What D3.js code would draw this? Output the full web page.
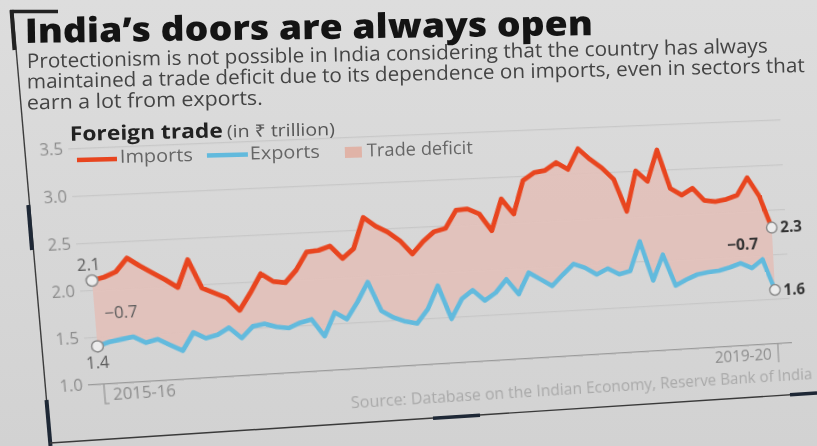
<!DOCTYPE html>
<html>
<head>
<meta charset="utf-8">
<script src="https://cdn.jsdelivr.net/npm/d3@7"></script>
<style>
  html, body { margin: 0; padding: 0; }
  body { width: 817px; height: 446px; overflow: hidden; background: #d7d7d7; }
  #stage {
    position: relative; width: 817px; height: 446px; overflow: hidden;
    background: linear-gradient(#dddddd, #d2d2d2);
    font-family: "Open Sans", "Noto Sans", sans-serif;
  }
  #stage svg { position: absolute; left: 0; top: 0; overflow: visible; }
  #plot { transform-origin: 0 0; }
</style>
</head>
<body>
<div id="stage"></div>
<script>
// Monthly foreign trade, April 2015 – March 2020 (₹ trillion)
const importsTrn = [
  2.10, 2.13, 2.18, 2.32, 2.23, 2.15, 2.07, 1.98, 2.27, 1.96,
  1.90, 1.84, 1.70, 1.88, 2.08, 1.99, 1.97, 2.10, 2.29, 2.30,
  2.34, 2.20, 2.30, 2.63, 2.53, 2.46, 2.36, 2.21, 2.34, 2.44,
  2.47, 2.66, 2.67, 2.61, 2.42, 2.76, 2.59, 2.95, 3.03, 3.05,
  3.13, 3.05, 3.27, 3.15, 3.05, 2.92, 2.56, 3.00, 2.88, 3.22,
  2.79, 2.71, 2.78, 2.64, 2.62, 2.64, 2.68, 2.87, 2.66, 2.30
];
const exportsTrn = [
  1.40, 1.44, 1.46, 1.48, 1.41, 1.44, 1.37, 1.30, 1.49, 1.42,
  1.45, 1.52, 1.40, 1.52, 1.54, 1.50, 1.48, 1.53, 1.56, 1.37,
  1.62, 1.54, 1.72, 1.93, 1.61, 1.53, 1.48, 1.45, 1.60, 1.85,
  1.48, 1.69, 1.78, 1.66, 1.74, 1.88, 1.71, 1.94, 1.86, 1.78,
  1.90, 2.01, 1.96, 1.88, 1.94, 1.87, 1.90, 2.22, 1.78, 2.06,
  1.71, 1.77, 1.82, 1.84, 1.85, 1.88, 1.92, 1.86, 1.95, 1.60
];
const months = d3.timeMonth.range(new Date(2015, 3, 1), new Date(2020, 3, 1));
const yTicks = [1.0, 1.5, 2.0, 2.5, 3.0, 3.5];
const periodLabels = ["2015-16", "2019-20"];

const C = {
  imports: "#e8451f",
  exports: "#62badd",
  deficit: "#e2c1bb",
  deficitKey: "#e0b3a7",
  grid: "#c4c4c4",
  axis: "#9a9a9a",
  tick: "#8c8c8c"
};

const stage = d3.select("#stage");

/* ---------- page frame ---------- */
const frame = stage.append("svg").attr("width", 817).attr("height", 446);
frame.append("line").attr("x1", 12.7).attr("y1", 10).attr("x2", 50.5).attr("y2", 446)
  .attr("stroke", "#3c3c3c").attr("stroke-width", 1.4);
frame.append("line").attr("x1", 10).attr("y1", 11.5).attr("x2", 58).attr("y2", 11.5)
  .attr("stroke", "#222").attr("stroke-width", 3.5);
frame.append("line").attr("x1", 11.5).attr("y1", 10).attr("x2", 14.5).attr("y2", 50)
  .attr("stroke", "#222").attr("stroke-width", 4);
frame.append("line").attr("x1", 28.3).attr("y1", 205).attr("x2", 32).attr("y2", 250)
  .attr("stroke", "#1e2836").attr("stroke-width", 4);
frame.append("line").attr("x1", 46.5).attr("y1", 400).attr("x2", 50.5).attr("y2", 446)
  .attr("stroke", "#1e2836").attr("stroke-width", 4);
frame.append("line").attr("x1", 50).attr("y1", 443).attr("x2", 817).attr("y2", 393)
  .attr("stroke", "#3a3a3a").attr("stroke-width", 1.4);
frame.append("line").attr("x1", 433).attr("y1", 418.3).attr("x2", 480).attr("y2", 415.2)
  .attr("stroke", "#1e2836").attr("stroke-width", 3.5);
frame.append("line").attr("x1", 790).attr("y1", 394.8).attr("x2", 817).attr("y2", 393)
  .attr("stroke", "#1e2836").attr("stroke-width", 3.5);

/* ---------- plot (drawn flat, then set on the tilted page) ---------- */
const plot = stage.append("svg").attr("id", "plot").attr("width", 900).attr("height", 480);

const x = d3.scalePoint().domain(d3.range(months.length)).range([92, 772]);
const y = d3.scaleLinear().domain([1, 3.5]).range([381.2, 151.2]);
const fmt = d3.format(".1f");

// y axis with gridlines
const gridLeft = 80, gridRight = 787;
const yAxis = plot.append("g").attr("transform", `translate(${gridLeft},0)`)
  .call(d3.axisLeft(y).tickValues(yTicks).tickFormat(fmt)
    .tickSize(-(gridRight - gridLeft)).tickPadding(5));
yAxis.select(".domain").remove();
yAxis.selectAll(".tick line")
  .attr("stroke", d => d === 1 ? C.axis : C.grid)
  .attr("stroke-width", d => d === 1 ? 1.3 : 1);
yAxis.selectAll(".tick text")
  .attr("fill", C.tick).attr("font-size", 15.5)
  .attr("font-family", "Open Sans, Noto Sans, sans-serif");

// trade deficit band
const idx = d3.range(months.length);
plot.append("path")
  .attr("d", d3.area().x(i => x(i)).y0(i => y(exportsTrn[i])).y1(i => y(importsTrn[i]))(idx))
  .attr("fill", C.deficit).attr("opacity", 0.95);

// series lines
const line = d3.line().x(i => x(i));
plot.append("path").attr("d", line.y(i => y(exportsTrn[i]))(idx))
  .attr("fill", "none").attr("stroke", C.exports).attr("stroke-width", 4.6)
  .attr("stroke-linejoin", "round");
plot.append("path").attr("d", line.y(i => y(importsTrn[i]))(idx))
  .attr("fill", "none").attr("stroke", C.imports).attr("stroke-width", 4.8)
  .attr("stroke-linejoin", "round");

// end markers
const first = 0, last = months.length - 1;
[[first, importsTrn], [first, exportsTrn], [last, importsTrn], [last, exportsTrn]].forEach(([i, s]) => {
  plot.append("circle").attr("cx", x(i)).attr("cy", y(s[i])).attr("r", 5.5)
    .attr("fill", "#ececec").attr("stroke", "#8a8a8a").attr("stroke-width", 1.5);
});

// start annotations
const ann = plot.append("g").attr("font-family", "Open Sans, Noto Sans, sans-serif");
ann.append("text").attr("x", x(first) - 2).attr("y", y(importsTrn[first]) - 10)
  .attr("text-anchor", "middle").attr("font-size", 15.5).attr("fill", "#5a5a5a")
  .text(fmt(importsTrn[first]));
ann.append("text").attr("x", x(first) - 1).attr("y", y(exportsTrn[first]) + 22)
  .attr("text-anchor", "middle").attr("font-size", 15.5).attr("fill", "#5a5a5a")
  .text(fmt(exportsTrn[first]));
ann.append("text").attr("x", x(first) + 9)
  .attr("y", y((importsTrn[first] + exportsTrn[first]) / 2)).attr("dy", "0.35em")
  .attr("font-size", 16).attr("fill", "#5a5a5a")
  .text(fmt(exportsTrn[first] - importsTrn[first]));

// end annotations
ann.append("text").attr("x", x(last) + 9).attr("y", y(importsTrn[last])).attr("dy", "0.35em")
  .attr("font-size", 16).attr("font-weight", 700).attr("fill", "#333")
  .text(fmt(importsTrn[last]));
ann.append("text").attr("x", x(last) + 9).attr("y", y(exportsTrn[last])).attr("dy", "0.35em")
  .attr("font-size", 16).attr("font-weight", 700).attr("fill", "#333")
  .text(fmt(exportsTrn[last]));
ann.append("text").attr("x", x(last) - 15)
  .attr("y", y((importsTrn[last] + exportsTrn[last]) / 2) - 11)
  .attr("text-anchor", "end").attr("font-size", 16.5).attr("font-weight", 700).attr("fill", "#333")
  .text(fmt(exportsTrn[last] - importsTrn[last]));

// period markers on the x axis
const base = y(1);
const xa = plot.append("g").attr("font-family", "Open Sans, Noto Sans, sans-serif");
xa.append("path").attr("d", `M${x(first) + 3},${base}V${base + 20}H${x(first) + 7}`)
  .attr("fill", "none").attr("stroke", C.axis).attr("stroke-width", 1.3);
xa.append("path").attr("d", `M${x(last)},${base}V${base + 20}`)
  .attr("fill", "none").attr("stroke", C.axis).attr("stroke-width", 1.3);
xa.append("text").attr("x", x(first) + 11).attr("y", base + 16.5)
  .attr("font-size", 16).attr("fill", C.tick).text(periodLabels[0]);
xa.append("text").attr("x", x(last) - 7).attr("y", base + 17)
  .attr("text-anchor", "end").attr("font-size", 16).attr("fill", C.tick).text(periodLabels[1]);

// source line
plot.append("text").attr("x", 807).attr("y", 421).attr("text-anchor", "end")
  .attr("font-family", "Open Sans, Noto Sans, sans-serif")
  .attr("font-size", 15.5).attr("fill", "#a9a9a9")
  .attr("textLength", 475).attr("lengthAdjust", "spacingAndGlyphs")
  .text("Source: Database on the Indian Economy, Reserve Bank of India");

// page tilt: projective map from the flat plot rectangle to its place on the page
function homography(src, dst) {
  const A = [], b = [];
  for (let k = 0; k < 4; k++) {
    const [px, py] = src[k], [u, v] = dst[k];
    A.push([px, py, 1, 0, 0, 0, -u * px, -u * py]); b.push(u);
    A.push([0, 0, 0, px, py, 1, -v * px, -v * py]); b.push(v);
  }
  const n = 8;
  for (let i = 0; i < n; i++) {
    let p = i;
    for (let r = i + 1; r < n; r++) if (Math.abs(A[r][i]) > Math.abs(A[p][i])) p = r;
    [A[i], A[p]] = [A[p], A[i]]; [b[i], b[p]] = [b[p], b[i]];
    for (let r = i + 1; r < n; r++) {
      const f = A[r][i] / A[i][i];
      for (let c = i; c < n; c++) A[r][c] -= f * A[i][c];
      b[r] -= f * b[i];
    }
  }
  const h = new Array(n);
  for (let i = n - 1; i >= 0; i--) {
    let s = b[i];
    for (let c = i + 1; c < n; c++) s -= A[i][c] * h[c];
    h[i] = s / A[i][i];
  }
  return h;
}
const flat = [[x(first), y(3.5)], [x(last), y(3.5)], [x(last), y(1)], [x(first), y(1)]];
const onPage = [[81, 148], [766.1, 120], [777.7, 343], [100.6, 383.7]];
const h = homography(flat, onPage);
plot.style("transform",
  `matrix3d(${h[0]},${h[3]},0,${h[6]},${h[1]},${h[4]},0,${h[7]},0,0,1,0,${h[2]},${h[5]},0,1)`);

/* ---------- headline, standfirst, chart title and key ---------- */
const head = stage.append("svg").attr("width", 817).attr("height", 446)
  .attr("font-family", "Open Sans, Noto Sans, sans-serif");

head.append("text").attr("x", 25).attr("y", 43).attr("transform", "rotate(-0.8 25 43)")
  .attr("font-size", 34).attr("font-weight", 800).attr("fill", "#141414")
  .attr("textLength", 568).attr("lengthAdjust", "spacingAndGlyphs")
  .text("India’s doors are always open");

const standfirst = [
  ["Protectionism is not possible in India considering that the country has always", 741, 68],
  ["maintained a trade deficit due to its dependence on imports, even in sectors that", 778, 88.5],
  ["earn a lot from exports.", 236, 109.5]
];
standfirst.forEach(([t, len, by]) => {
  head.append("text").attr("x", 27).attr("y", by).attr("transform", `rotate(-1.2 27 ${by})`)
    .attr("font-size", 20).attr("fill", "#444")
    .attr("textLength", len).attr("lengthAdjust", "spacingAndGlyphs").text(t);
});

const ct = head.append("g").attr("transform", "rotate(-1.2 70 140.7)");
ct.append("text").attr("x", 70).attr("y", 140.7).attr("font-size", 20).attr("font-weight", 700)
  .attr("fill", "#222").attr("textLength", 153).attr("lengthAdjust", "spacingAndGlyphs")
  .text("Foreign trade");
ct.append("text").attr("x", 227).attr("y", 140.7).attr("font-size", 17).attr("fill", "#555")
  .attr("textLength", 108).attr("lengthAdjust", "spacingAndGlyphs")
  .text("(in ₹ trillion)");

const key = head.append("g").attr("transform", "rotate(-1.5 77 160)");
key.append("line").attr("x1", 77).attr("x2", 117).attr("y1", 160).attr("y2", 160)
  .attr("stroke", C.imports).attr("stroke-width", 4.5);
key.append("text").attr("x", 120).attr("y", 164).attr("font-size", 18).attr("fill", "#666")
  .attr("textLength", 73).attr("lengthAdjust", "spacingAndGlyphs").text("Imports");
key.append("line").attr("x1", 207).attr("x2", 248).attr("y1", 159).attr("y2", 159)
  .attr("stroke", C.exports).attr("stroke-width", 4.5);
key.append("text").attr("x", 250).attr("y", 164).attr("font-size", 18).attr("fill", "#666")
  .attr("textLength", 70).attr("lengthAdjust", "spacingAndGlyphs").text("Exports");
key.append("rect").attr("x", 345).attr("y", 154).attr("width", 17).attr("height", 11)
  .attr("fill", C.deficitKey);
key.append("text").attr("x", 367).attr("y", 164).attr("font-size", 18).attr("fill", "#666")
  .attr("textLength", 106).attr("lengthAdjust", "spacingAndGlyphs").text("Trade deficit");
</script>
</body>
</html>
